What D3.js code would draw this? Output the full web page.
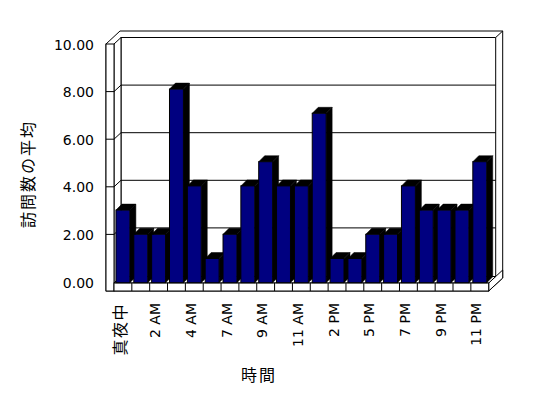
<!DOCTYPE html>
<html><head><meta charset="utf-8">
<script src="https://cdn.jsdelivr.net/npm/d3@7/dist/d3.min.js"></script>
<style>
html,body{margin:0;padding:0;background:#fff;}
svg{display:block;}
</style></head>
<body>
<svg id="c" width="548" height="398"></svg>
<script>
const categories = ["真夜中","1 AM","2 AM","3 AM","4 AM","5 AM","7 AM","8 AM","9 AM","10 AM","11 AM","1 PM","2 PM","3 PM","5 PM","6 PM","7 PM","8 PM","9 PM","10 PM","11 PM"];
const values = [3,2,2,8,4,1,2,4,5,4,4,7,1,1,2,2,4,3,3,3,5];
const shownLabels = ["真夜中","2 AM","4 AM","7 AM","9 AM","11 AM","2 PM","5 PM","7 PM","9 PM","11 PM"];
const yTicks = [0,2,4,6,8,10];
const yTitle = "訪問数の平均";
const xTitle = "時間";

const svg = d3.select("#c");
const LAT = "DejaVu Sans, Liberation Sans, Arial, sans-serif";
const CJK = "Noto Sans CJK JP, sans-serif";

// depth offsets (oblique projection)
const DX = 7, DY = -6.5;
const wallL = 106, plotL = 114, plotR = 488.7;
const yAxis = d3.scaleLinear().domain([0,10]).range([282,44]);
const yBar = d3.scaleLinear().domain([0,10]).range([282.7,40.7]);
const x = d3.scaleBand().domain(categories).range([plotL, plotR]).padding(0);
const floorTop = 283, floorBot = 291;
const topY = yAxis(10);

const lines = svg.append("g").attr("fill","#fff").attr("stroke","#000").attr("stroke-width",1);

// outer outline (back wall thickness / top faces)
lines.append("path").attr("d", d3.line()([
  [wallL, topY],[wallL+2*DX, topY+2*DY],[plotR+2*DX, topY+2*DY],[plotR+2*DX, floorBot+2*DY],
  [plotR, floorBot],[wallL, floorBot]]) + "Z");
// back wall front face
lines.append("path").attr("d", d3.line()([
  [plotL+DX, topY+DY],[plotR+DX, topY+DY],[plotR+DX, floorTop+DY],[plotL+DX, floorTop+DY]]) + "Z");
lines.append("line").attr("x1",plotR+DX).attr("y1",topY+DY).attr("x2",plotR+2*DX).attr("y2",topY+2*DY);
// left wall inner face
lines.append("path").attr("d", d3.line()([
  [plotL, topY],[plotL+DX, topY+DY],[plotL+DX, floorTop+DY],[plotL, floorTop]]) + "Z");
// left wall front face
lines.append("rect").attr("x",wallL).attr("y",topY).attr("width",plotL-wallL).attr("height",floorBot-topY);

// gridlines
const grid = svg.append("g").attr("stroke","#000").attr("stroke-width",1).attr("fill","none");
yTicks.filter(v => v>0 && v<10).forEach(v => {
  const yf = yAxis(v);
  grid.append("path").attr("d", d3.line()([[wallL, yf],[plotL, yf],[plotL+DX, yf+DY],[plotR+DX, yf+DY]]));
});

// floor right side face
lines.append("path").attr("d", d3.line()([
  [plotR, floorTop],[plotR+2*DX, floorTop+2*DY],[plotR+2*DX, floorBot+2*DY],[plotR, floorBot]]) + "Z");
// floor top face
lines.append("path").attr("d", d3.line()([
  [plotL, floorTop],[plotR, floorTop],[plotR+DX, floorTop+DY],[plotL+DX, floorTop+DY]]) + "Z");
// floor front face with category dividers
const floorG = svg.append("g").attr("stroke","#000").attr("stroke-width",1);
floorG.append("rect").attr("fill","#fff").attr("x",plotL).attr("y",floorTop).attr("width",plotR-plotL).attr("height",floorBot-floorTop);
categories.slice(1).forEach(c => {
  floorG.append("line").attr("x1",x(c)).attr("x2",x(c)).attr("y1",floorTop).attr("y2",floorBot);
});

// bars
const bw = x.bandwidth()*0.78, boff = x.bandwidth()*0.11, BD = 6;
const bars = svg.append("g");
categories.forEach((c,i) => {
  const x0 = x(c)+boff, yt = yBar(values[i]), yb = yBar(0);
  const g = bars.append("g");
  g.append("path").attr("fill","#000").attr("stroke","#000").attr("stroke-width",0.5)
    .attr("d", d3.line()([[x0+bw,yt],[x0+bw+BD,yt-BD],[x0+bw+BD,yb-BD],[x0+bw,yb]])+"Z");
  g.append("path").attr("fill","#000").attr("stroke","#000").attr("stroke-width",0.5)
    .attr("d", d3.line()([[x0,yt],[x0+BD,yt-BD],[x0+bw+BD,yt-BD],[x0+bw,yt]])+"Z");
  g.append("rect").attr("x",x0).attr("y",yt).attr("width",bw).attr("height",yb-yt)
    .attr("fill","#000080").attr("stroke","#000").attr("stroke-width",1);
});

// y axis labels
const ya = svg.append("g").attr("transform","translate(94,0)")
  .call(d3.axisLeft(yAxis).tickValues(yTicks).tickSize(0).tickPadding(0).tickFormat(d3.format(".2f")));
ya.select(".domain").remove();
ya.selectAll("text").attr("font-family",LAT).attr("font-size",14).attr("fill","#000").attr("dy","0.36em");

// x axis labels
const isLat = d => /[A-Z0-9]/.test(d);
const xa = svg.append("g").attr("transform","translate(0,303)")
  .call(d3.axisBottom(x).tickValues(shownLabels).tickSize(0));
xa.select(".domain").remove();
xa.selectAll("text")
  .attr("transform","rotate(-90)")
  .attr("x",0).attr("dy",0)
  .attr("text-anchor","end")
  .attr("fill","#000")
  .attr("font-family", d => isLat(d) ? LAT : CJK)
  .attr("font-size", d => isLat(d) ? 14 : 16)
  .attr("letter-spacing", d => isLat(d) ? 0 : 1.5)
  .attr("y", d => isLat(d) ? 1.6 : 3);

// titles
svg.append("text").attr("transform","translate(27,174) rotate(-90)")
  .attr("text-anchor","middle").attr("dominant-baseline","central")
  .attr("font-family",CJK).attr("font-size",16).attr("letter-spacing",2)
  .attr("fill","#000").text(yTitle);
svg.append("text").attr("x",259).attr("y",374)
  .attr("text-anchor","middle").attr("dominant-baseline","central")
  .attr("font-family",CJK).attr("font-size",16).attr("letter-spacing",2)
  .attr("fill","#000").text(xTitle);
</script>
</body></html>
